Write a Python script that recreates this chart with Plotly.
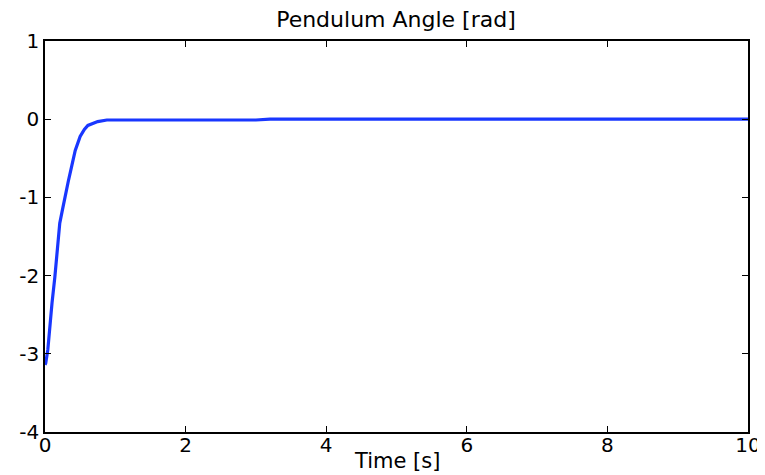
import plotly.graph_objects as go

time_s = [0.0, 0.01, 0.04, 0.07, 0.10, 0.14, 0.18, 0.21, 0.25, 0.28, 0.33, 0.38, 0.43, 0.50, 0.56, 0.61, 0.68, 0.75, 0.88,
          1.0, 1.3, 1.5, 1.8, 2.0, 2.05, 2.5, 3.0, 3.2, 4.0, 5.0, 6.0, 7.0, 8.0, 9.0, 10.0]
angle_rad = [-3.14, -3.12, -2.95, -2.62, -2.35, -2.02, -1.65, -1.33, -1.15, -1.00, -0.80, -0.60, -0.40, -0.22, -0.13, -0.08, -0.05, -0.03, -0.01,
             -0.01, -0.01, -0.02, -0.02, -0.02, -0.01, -0.01, -0.01, 0.0, 0.0, 0.0, 0.0, 0.0, 0.0, 0.0, 0.0]

x_ticks = [0, 2, 4, 6, 8, 10]
y_ticks = [-4, -3, -2, -1, 0, 1]

fig = go.Figure()
fig.add_trace(go.Scatter(x=time_s, y=angle_rad, mode="lines",
                         line=dict(color="rgb(25,55,255)", width=3.2), showlegend=False))

font = "DejaVu Sans, Liberation Sans, Arial, sans-serif"
axis_common = dict(showline=True, linecolor="black", linewidth=1.5, mirror="allticks",
                   ticks="inside", ticklen=6, tickcolor="black", tickwidth=1,
                   showgrid=False, zeroline=False, automargin=False,
                   tickfont=dict(family=font, size=20, color="black"))

fig.update_layout(
    width=757, height=467,
    margin=dict(l=37, r=17, t=33, b=43),
    paper_bgcolor="white", plot_bgcolor="white",
    title=dict(text="Pendulum Angle [rad]", x=0.5125, xanchor="center", xref="container",
               y=1 - 11 / 467, yanchor="middle", yref="container",
               font=dict(family=font, size=22, color="black")),
    xaxis=dict(range=[0, 10], tickvals=x_ticks, ticktext=[str(v) for v in x_ticks],
               ticklabelstandoff=-6, **axis_common),
    yaxis=dict(range=[-4, 1], tickvals=y_ticks, ticktext=[str(v) for v in y_ticks], **axis_common),
)
fig.add_annotation(text="Time [s]", xref="paper", yref="paper", x=0.5, y=-(453 - 424) / 391,
                   xanchor="center", yanchor="middle", showarrow=False,
                   font=dict(family=font, size=21, color="black"))

fig.write_html("out.html")
